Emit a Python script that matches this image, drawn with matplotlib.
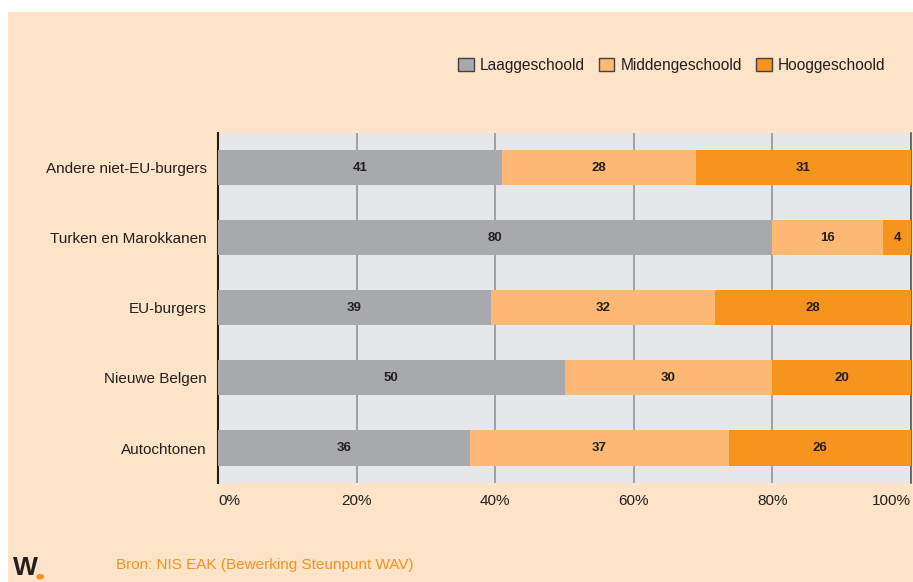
import matplotlib.pyplot as plt
from matplotlib.patches import Patch, Rectangle, Circle

plt.rcParams['font.family'] = ['Liberation Sans', 'DejaVu Sans']

# --- DATA ---
groups = ['Andere niet-EU-burgers', 'Turken en Marokkanen', 'EU-burgers',
          'Nieuwe Belgen', 'Autochtonen']
laag = [41, 80, 39, 50, 36]
midden = [28, 16, 32, 30, 37]
hoog = [31, 4, 28, 20, 26]
series_names = ['Laaggeschoold', 'Middengeschoold', 'Hooggeschoold']
xticks = [0, 20, 40, 60, 80, 100]

bg = '#fde3c7'
colors = ['#a7a9ac', '#fdb974', '#f7941d']

fig = plt.figure(figsize=(9.13, 5.82), dpi=100, facecolor='white')
# peach panel (white margin at top and left)
fig.patches.append(Rectangle((8 / 913, 0), 1, 1 - 12 / 582, facecolor=bg,
                             edgecolor='none', transform=fig.transFigure,
                             figure=fig, zorder=-10))

ax = fig.add_axes([0.2388, 0.1701, 0.7590, 0.6014])
ax.set_facecolor('#e6e7e8')

ypos = list(range(len(groups)))[::-1]
series = [laag, midden, hoog]
totals = [a + b + c for a, b, c in zip(laag, midden, hoog)]

left = [0.0] * len(groups)
for vals, col, name in zip(series, colors, series_names):
    widths = [v / t * 100 for v, t in zip(vals, totals)]
    ax.barh(ypos, widths, left=left, height=0.5, color=col, zorder=3)
    for y, l, w, v in zip(ypos, left, widths, vals):
        ax.text(l + w / 2, y, str(v), ha='center', va='center',
                fontsize=9.5, fontweight='bold', color='#231f20', zorder=4)
    left = [l + w for l, w in zip(left, widths)]

ax.set_xlim(0, 100)
ax.set_ylim(-0.5, 4.5)
ax.set_yticks(ypos)
ax.set_yticklabels(groups, fontsize=11, color='#231f20')
ax.set_xticks(xticks)
ax.set_xticklabels([f'{t}%' for t in xticks], fontsize=11, color='#231f20')
labs = ax.get_xticklabels()
labs[0].set_ha('left')
labs[-1].set_ha('right')
ax.tick_params(axis='both', length=0, pad=8)
ax.xaxis.grid(True, color='#939598', linewidth=1.2, zorder=1)

for s in ['top', 'bottom']:
    ax.spines[s].set_visible(False)
ax.spines['left'].set_color('#231f20')
ax.spines['left'].set_linewidth(1.5)
ax.spines['right'].set_color('#58595b')
ax.spines['right'].set_linewidth(1.2)

handles = [Patch(facecolor=c, edgecolor='#414042', label=n)
           for c, n in zip(colors, series_names)]
fig.legend(handles=handles, loc='center right', bbox_to_anchor=(0.985, 0.888),
           ncol=3, frameon=False, fontsize=11.2, handlelength=1.0,
           handleheight=1.0, handletextpad=0.4, columnspacing=0.9,
           labelcolor='#231f20')

fig.text(0.127, 0.022, 'Bron: NIS EAK (Bewerking Steunpunt WAV)',
         fontsize=11, color='#f7941d')
fig.text(0.014, 0.012, 'W', fontsize=19, color='#231f20', fontweight='bold')
fig.patches.append(Circle((0.044, 0.009), 0.0035, color='#f7941d',
                          transform=fig.transFigure, figure=fig))

fig.savefig('out.png', dpi=100, facecolor='white')
